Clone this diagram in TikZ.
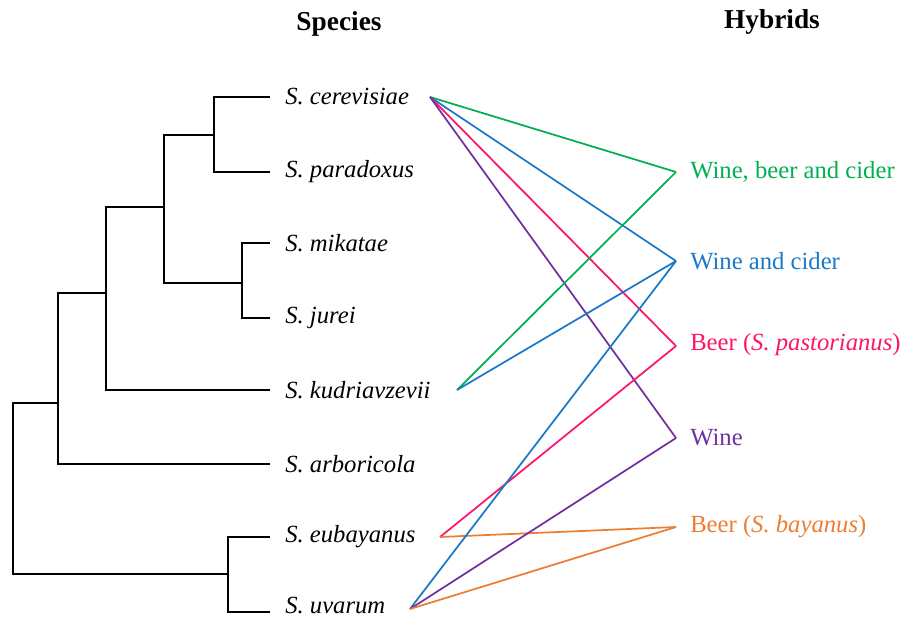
\documentclass[tikz,border=0pt]{standalone}
\usepackage{fontspec}
\setmainfont{Liberation Serif}
\definecolor{cgreen}{HTML}{00B050}
\definecolor{cblue}{HTML}{1A78C8}
\definecolor{cpink}{HTML}{FF1469}
\definecolor{cpurple}{HTML}{7030A0}
\definecolor{corange}{HTML}{ED7D31}
\begin{document}
\begin{tikzpicture}[x=0.75pt,y=-0.75pt,
  tree/.style={draw=black,line width=1pt},
  link/.style={line width=1.3pt},
  sp/.style={anchor=west,inner sep=0pt,font=\fontsize{18.5}{20}\selectfont\itshape},
  hy/.style={anchor=west,inner sep=0pt,font=\fontsize{18.5}{20}\selectfont},
  hdr/.style={inner sep=0pt,font=\fontsize{20.5}{22}\selectfont\bfseries}]
\useasboundingbox (0,0) rectangle (909,620);
% headers
\node[hdr] (hs) at (339,24) {Species};
\node[hdr] (hh) at (772,22) {Hybrids};
% leaves
\coordinate (l1) at (270,97);
\coordinate (l2) at (270,172);
\coordinate (l3) at (270,243);
\coordinate (l4) at (270,318);
\coordinate (l5) at (270,390);
\coordinate (l6) at (270,464);
\coordinate (l7) at (270,537);
\coordinate (l8) at (270,612);
% internal nodes
\coordinate (n12) at (214,135);
\coordinate (n34) at (242,283);
\coordinate (n1234) at (164,207);
\coordinate (n12345) at (106,293);
\coordinate (n123456) at (58,403);
\coordinate (n78) at (228,574);
\coordinate (root) at (13,574);
% tree
\draw[tree] (l1) -| (n12) |- (l2);
\draw[tree] (l3) -| (n34) |- (l4);
\draw[tree] (n12) -| (n1234) |- (n34);
\draw[tree] (n1234) -| (n12345) |- (l5);
\draw[tree] (n12345) -| (n123456) |- (l6);
\draw[tree] (l7) -| (n78) |- (l8);
\draw[tree] (n123456) -| (root) |- (n78);
% species labels
\node[sp] (s1) at (285,97) {S. cerevisiae};
\node[sp] (s2) at (285,172) {S. paradoxus};
\node[sp] (s3) at (285,243) {S. mikatae};
\node[sp] (s4) at (285,318) {S. jurei};
\node[sp] (s5) at (285,390) {S. kudriavzevii};
\node[sp] (s6) at (285,464) {S. arboricola};
\node[sp] (s7) at (285,537) {S. eubayanus};
\node[sp] (s8) at (285,606) {S. uvarum};
% hybrid labels
\node[hy,text=cgreen] (h1) at (690,172) {Wine, beer and cider};
\node[hy,text=cblue] (h2) at (690,261) {Wine and cider};
\node[hy,text=cpink] (h3) at (690,345) {Beer (\textit{S. pastorianus})};
\node[hy,text=cpurple] (h4) at (690,438) {Wine};
\node[hy,text=corange] (h5) at (690,527) {Beer (\textit{S. bayanus})};
% connector ends
\coordinate (pc) at (430,97);
\coordinate (pk) at (457,390);
\coordinate (pe) at (440,537);
\coordinate (pu) at (410,609);
\coordinate (q1) at (676,172);
\coordinate (q2) at (676,261);
\coordinate (q3) at (676,346);
\coordinate (q4) at (676,438);
\coordinate (q5) at (676,527);
% links
\draw[link,cgreen] (pc) -- (q1);
\draw[link,cblue] (pc) -- (q2);
\draw[link,cpink] (pc) -- (q3);
\draw[link,cpurple] (pc) -- (q4);
\draw[link,cgreen] (pk) -- (q1);
\draw[link,cblue] (pk) -- (q2);
\draw[link,cpink] (pe) -- (q3);
\draw[link,corange] (pe) -- (q5);
\draw[link,cblue] (pu) -- (q2);
\draw[link,cpurple] (pu) -- (q4);
\draw[link,corange] (pu) -- (q5);
\end{tikzpicture}
\end{document}
